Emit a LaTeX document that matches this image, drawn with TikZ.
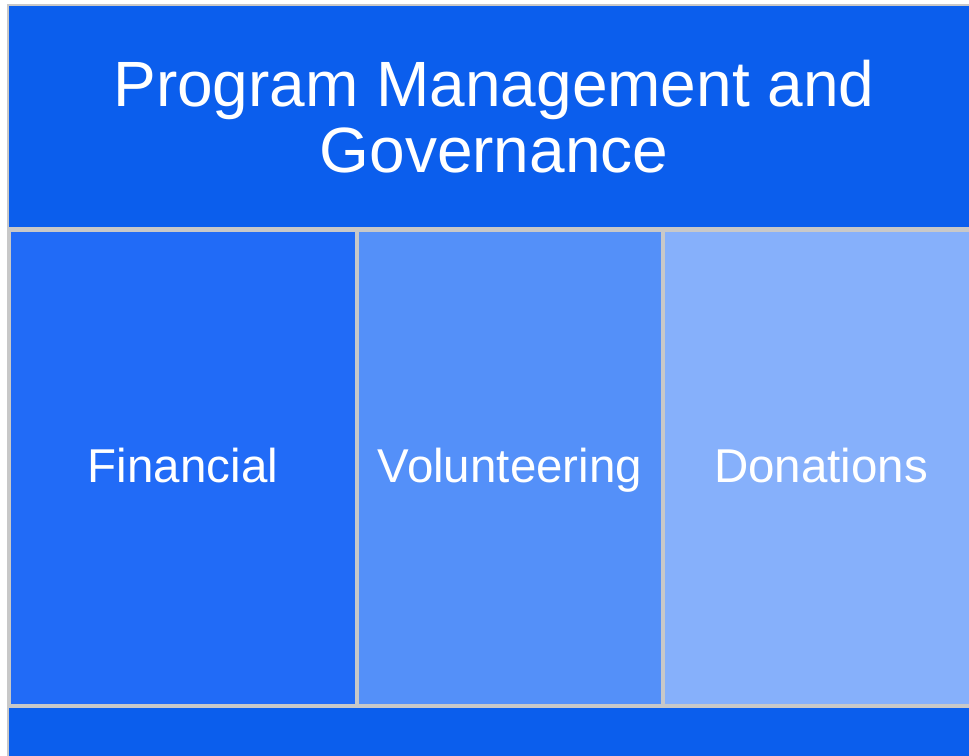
\documentclass[tikz,border=0pt]{standalone}
\usepackage{fontspec}
\setmainfont{Liberation Sans}
\usetikzlibrary{positioning}
\definecolor{cband}{RGB}{11,94,237}
\definecolor{cfin}{RGB}{33,107,247}
\definecolor{cvol}{RGB}{84,144,249}
\definecolor{cdon}{RGB}{134,176,251}
\definecolor{cline}{RGB}{200,200,200}

\begin{document}
\begin{tikzpicture}[x=1pt,y=-1pt,
box/.style={rectangle,inner sep=0pt,outer sep=0pt,text=white,align=center},
band/.style={box,fill=cband,draw=cline,line width=1.5pt,minimum width=972pt},
col/.style={box,draw=cline,line width=4pt,minimum height=476pt,
  text height=35pt,text depth=6pt,font=\fontsize{47.5}{54}\selectfont}]
\useasboundingbox (0,0) rectangle (969,755);
\node[band,minimum height=223pt,font=\fontsize{64}{66}\selectfont] (gov) at (494,116.5)
  {Program Management and\\Governance};
\node[band,draw=none,minimum height=60pt] (base) at (494,736) {};
\draw[cline,line width=1.5pt] (base.north west) -- (base.south west);
\node[col,fill=cfin,minimum width=348pt] (fin) at (183,468) {Financial};
\node[col,fill=cvol,minimum width=306pt,right=0pt of fin] (vol) {Volunteering};
\node[col,fill=cdon,minimum width=316pt,right=0pt of vol] (don) {Donations};
\end{tikzpicture}
\end{document}
